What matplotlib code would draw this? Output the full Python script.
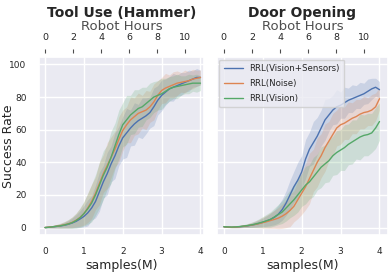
import matplotlib
matplotlib.use("Agg")
import matplotlib.pyplot as plt
import numpy as np
import seaborn as sns

sns.set_theme(style="darkgrid")
plt.rcParams['font.family'] = ['DejaVu Sans']

# samples (M)
x = np.round(np.arange(0, 4.01, 0.1), 2)
HOURS_PER_M = 2.77

# Tool Use (Hammer)
ham_vs = [0, .2, .4, .7, 1.0, 1.4, 2.0, 2.8, 3.8, 5.2, 6.8, 9, 12, 16, 22, 28, 33, 39, 44, 50, 55,
          58, 61, 63.5, 65.5, 67, 68.5, 70.5, 74, 78, 81, 83, 85, 86, 87, 88, 89, 90, 91, 92, 92]
ham_noise = [0, .3, .5, .8, 1.2, 1.7, 2.3, 3.2, 4.5, 6.2, 8.5, 12, 16, 21, 27, 33, 38, 43, 48, 54, 59.5,
             63, 66, 68, 70, 71, 72, 74, 77, 81, 84, 85.5, 86.5, 87.5, 88.5, 89, 89.5, 90, 91, 91.5, 92]
ham_vis = [0, .2, .5, .8, 1.1, 1.6, 2.2, 3.0, 4.3, 6, 8.5, 11.5, 15, 20, 26, 32, 37, 43, 50, 57, 63,
           66, 69, 71, 73, 74, 76, 78, 80, 81, 82, 83.5, 85, 86, 86.5, 87, 87.5, 88, 88.5, 88.5, 88.5]
ham_vs_sd = [.3, .5, .7, 1, 1.3, 1.7, 2.2, 3, 4, 5, 6.5, 8, 7.5, 10, 12, 10, 13, 11, 14, 12, 13,
             15, 11, 13, 10, 12.5, 11, 9.5, 11.5, 9, 9.5, 8, 7.5, 8.5, 6.5, 7, 6, 6.5, 5, 5.5, 4.5]
ham_noise_sd = [.3, .5, .8, 1.1, 1.5, 1.9, 2.5, 3.3, 4.2, 5.5, 7, 9, 10.5, 10, 13, 11.5, 14, 12.5, 11, 14, 12.5,
                11, 14, 11.5, 12.5, 10, 12, 9.5, 11, 9, 8, 9, 7, 8, 7.5, 6, 7, 5.5, 6, 5, 4.5]
ham_vis_sd = [.3, .5, .8, 1.1, 1.5, 2, 2.7, 3.5, 4.5, 6, 7.5, 9.5, 11.5, 12.5, 14, 15, 13.5, 16, 14, 15, 13.5,
              15, 12, 13.5, 11.5, 12, 10, 10.5, 9.5, 9, 9.5, 8, 7.5, 7, 7.5, 6, 5.5, 6, 5, 5.5, 4.5]

# Door Opening
door_vs = [.5, .3, .2, .3, .5, .7, 1.0, 1.4, 1.9, 2.5, 3.2, 4.0, 5.0, 6.3, 8.2, 11, 15, 20, 25, 29, 34,
           42, 48, 52, 56, 61, 66, 69, 72, 74, 75, 76.5, 78, 79, 80, 81, 82, 83.5, 85, 86, 84.5]
door_noise = [.5, .3, .2, .3, .5, .8, 1.1, 1.5, 1.9, 2.4, 3, 3.6, 4.3, 5, 5.8, 7, 8.5, 10.5, 13, 17, 21,
              25, 30, 35, 40, 44, 49, 53, 57, 61, 63, 64, 65.5, 67, 68, 69.5, 70.5, 71, 72, 74, 79]
door_vis = [.5, .4, .3, .4, .6, .9, 1.2, 1.6, 2.1, 2.7, 3.4, 4.2, 5, 6.5, 8, 9.5, 12, 14.5, 17, 20, 23,
            26, 28, 31, 34, 37, 39, 41, 44, 46, 47.5, 49, 51, 52.5, 54, 55.5, 56.5, 57, 58, 61, 65]
door_vs_sd = [.3, .3, .3, .4, .5, .7, .9, 1.2, 1.6, 2, 2.6, 3.2, 3.8, 4.6, 5.5, 6.5, 7.5, 9, 9.5, 11, 10,
              12, 10.5, 13, 11.5, 11, 12.5, 10, 9, 10.5, 8, 9.5, 7.5, 8.5, 7, 8, 6.5, 7.5, 6.5, 5.5, 5]
door_noise_sd = [.3, .3, .3, .4, .6, .8, 1.1, 1.5, 2, 2.6, 3.3, 4, 4.8, 5.5, 6.5, 7.5, 8.5, 10, 9.5, 11.5, 13,
                 14, 15.5, 13, 15, 13.5, 14.5, 12, 13, 11, 12, 10, 11.5, 9.5, 10.5, 9, 10, 8.5, 9.5, 8.5, 7]
door_vis_sd = [.3, .3, .4, .5, .7, .9, 1.2, 1.6, 2, 2.6, 3.3, 4, 4.7, 5.5, 6.2, 7, 8, 8.5, 9.5, 10.5, 10,
               11.5, 10.5, 12, 11, 12.5, 11.5, 13, 12, 13.5, 12.5, 14, 12.5, 13.5, 12, 14, 12.5, 13, 12, 12.5, 11.5]

labels = ["RRL(Vision+Sensors)", "RRL(Noise)", "RRL(Vision)"]
colors = ["#4C72B0", "#DD8452", "#55A868"]

panels = [
    ("Tool Use (Hammer)", [ham_vs, ham_noise, ham_vis], [ham_vs_sd, ham_noise_sd, ham_vis_sd], (-0.154, 4.09)),
    ("Door Opening", [door_vs, door_noise, door_vis], [door_vs_sd, door_noise_sd, door_vis_sd], (-0.18, 4.22)),
]

fig = plt.figure(figsize=(3.9, 2.77), dpi=100)
rects = [[0.1, 0.152, 0.423, 0.642], [0.556, 0.152, 0.439, 0.642]]

for i, (title, means, sds, xl) in enumerate(panels):
    ax = fig.add_axes(rects[i])
    for m, s, c, lab in zip(means, sds, colors, labels):
        m = np.array(m)
        s = np.array(s)
        ax.fill_between(x, m - s, m + s, color=c, alpha=0.2, lw=0)
        ax.plot(x, m, color=c, lw=1, label=lab)
    ax.set_xlim(*xl)
    ax.set_ylim(-4.5, 104.5)
    ax.set_xticks([0, 1, 2, 3, 4])
    ax.set_yticks([0, 20, 40, 60, 80, 100])
    ax.tick_params(labelsize=6.5, pad=3)
    ax.set_xlabel("samples(M)", fontsize=9, labelpad=2)
    if i == 0:
        ax.set_ylabel("Success Rate", fontsize=9)
        ax.yaxis.set_label_coords(-0.145, 0.5)
    else:
        ax.set_yticklabels([])
        ax.legend(loc="upper left", fontsize=6.2, frameon=True, handlelength=2.2,
                  borderpad=0.5, labelspacing=0.7, borderaxespad=0.3)

    sec = ax.secondary_xaxis(1.022, functions=(lambda v: v * HOURS_PER_M, lambda v: v / HOURS_PER_M))
    sec.set_xticks([0, 2, 4, 6, 8, 10])
    sec.tick_params(top=True, length=3, width=0.8, color="0.3", labelsize=6.8, pad=5)
    sec.spines["top"].set_visible(False)
    sec.set_xlabel("Robot Hours", fontsize=9.5, color="0.3", labelpad=2)
    ax.set_title(title, fontsize=10, fontweight="bold", pad=2)

fig.savefig("out.png", dpi=100)
